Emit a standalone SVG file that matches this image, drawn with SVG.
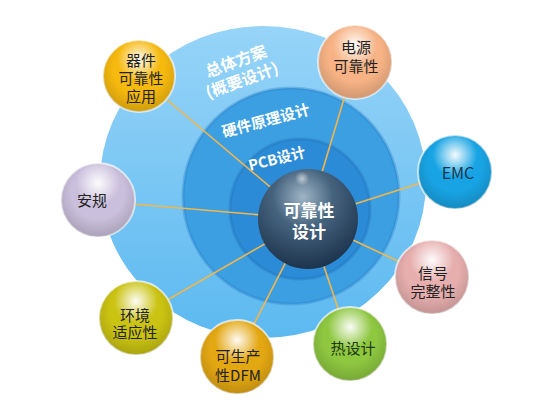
<svg xmlns="http://www.w3.org/2000/svg" width="552" height="416" viewBox="0 0 552 416">
<defs>
<style>
.n{font-family:"Noto Sans CJK SC","Noto Sans",sans-serif;font-size:15px;fill:#222;text-anchor:middle}
.r{font-family:"Noto Sans CJK SC","Noto Sans",sans-serif;font-weight:bold;fill:#fff;text-anchor:middle}
.c{stroke:#f2b64a;stroke-width:1.6;fill:none}
.rim{stroke:#fff;stroke-opacity:0.7;stroke-width:2}
</style>
<linearGradient id="outerG" x1="0" y1="0" x2="0" y2="1">
<stop offset="0" stop-color="#97d4f8"/>
<stop offset="1" stop-color="#5cb9f0"/>
</linearGradient>
<radialGradient id="gloss" cx="0.5" cy="0.27" r="0.3">
<stop offset="0" stop-color="#fff" stop-opacity="0.95"/>
<stop offset="1" stop-color="#fff" stop-opacity="0"/>
</radialGradient>
<radialGradient id="shade" cx="0.5" cy="0.4" r="0.6">
<stop offset="0.6" stop-color="#000" stop-opacity="0"/>
<stop offset="1" stop-color="#000" stop-opacity="0.16"/>
</radialGradient>
<radialGradient id="core" cx="0.45" cy="0.28" r="0.75">
<stop offset="0" stop-color="#9fb5c6"/>
<stop offset="0.4" stop-color="#46637e"/>
<stop offset="1" stop-color="#1a3049"/>
</radialGradient>
</defs>
<rect width="552" height="416" fill="#fff"/>
<g id="rings">
<ellipse cx="263" cy="182" rx="163" ry="156" fill="url(#outerG)"/>
<circle cx="291" cy="196" r="108" fill="#3c9fe2" stroke="#2a7fc6" stroke-opacity="0.35" stroke-width="3"/>
<circle cx="300" cy="209" r="70" fill="#2c8bd6" stroke="#1f6fb5" stroke-opacity="0.35" stroke-width="3"/>
<text class="r" font-size="16" transform="rotate(-20 236 61)" x="236" y="67">总体方案</text>
<text class="r" font-size="16" transform="rotate(-20 242 80)" x="242" y="86">(概要设计)</text>
<text class="r" font-size="15" transform="rotate(-15 266 121)" x="266" y="126">硬件原理设计</text>
<text class="r" font-size="14.5" transform="rotate(-14 277 159)" x="277" y="164">PCB设计</text>
</g>
<g id="connectors">
<line class="c" x1="308" y1="219" x2="139" y2="76"/>
<line class="c" x1="308" y1="219" x2="355" y2="62"/>
<line class="c" x1="308" y1="219" x2="455" y2="172"/>
<line class="c" x1="308" y1="219" x2="98" y2="201"/>
<line class="c" x1="308" y1="219" x2="432" y2="277"/>
<line class="c" x1="308" y1="219" x2="136" y2="318"/>
<line class="c" x1="308" y1="219" x2="237" y2="357"/>
<line class="c" x1="308" y1="219" x2="350" y2="344"/>
</g>
<g id="core-node">
<circle cx="308" cy="219" r="50" fill="url(#core)"/>
<circle cx="302" cy="184" r="12" fill="url(#gloss)" opacity="0.6"/>
<text class="r" font-size="17" x="309" y="217">可靠性</text>
<text class="r" font-size="17" x="309" y="238">设计</text>
</g>
<g id="n-qijian">
<circle cx="139" cy="76" r="36" fill="#f6b90e" class="rim"/>
<circle cx="139" cy="76" r="36" fill="url(#shade)"/>
<circle cx="139" cy="76" r="36" fill="url(#gloss)"/>
<text class="n" x="141" y="66">器件</text>
<text class="n" x="141" y="84">可靠性</text>
<text class="n" x="141" y="102">应用</text>
</g>
<g id="n-dianyuan">
<circle cx="355" cy="62" r="37" fill="#f7b385" class="rim"/>
<circle cx="355" cy="62" r="37" fill="url(#shade)"/>
<circle cx="355" cy="62" r="37" fill="url(#gloss)"/>
<text class="n" x="356" y="53">电源</text>
<text class="n" x="356" y="72">可靠性</text>
</g>
<g id="n-emc">
<circle cx="455" cy="172" r="37" fill="#18a4e4" class="rim"/>
<circle cx="455" cy="172" r="37" fill="url(#shade)"/>
<circle cx="455" cy="172" r="37" fill="url(#gloss)"/>
<text class="n" x="458" y="179" style="font-size:16px;fill:#173650">EMC</text>
</g>
<g id="n-anguei">
<circle cx="98" cy="200" r="37" fill="#cabfdc" class="rim"/>
<circle cx="98" cy="200" r="37" fill="url(#shade)"/>
<circle cx="98" cy="200" r="37" fill="url(#gloss)"/>
<text class="n" x="92" y="206">安规</text>
</g>
<g id="n-xinhao">
<circle cx="432" cy="277" r="37" fill="#e7aeae" class="rim"/>
<circle cx="432" cy="277" r="37" fill="url(#shade)"/>
<circle cx="432" cy="277" r="37" fill="url(#gloss)"/>
<text class="n" x="433" y="279">信号</text>
<text class="n" x="433" y="297">完整性</text>
</g>
<g id="n-huanjing">
<circle cx="136" cy="318" r="37" fill="#cac312" class="rim"/>
<circle cx="136" cy="318" r="37" fill="url(#shade)"/>
<circle cx="136" cy="318" r="37" fill="url(#gloss)"/>
<text class="n" x="135" y="321">环境</text>
<text class="n" x="135" y="338">适应性</text>
</g>
<g id="n-dfm">
<circle cx="237" cy="357" r="37" fill="#e3a712" class="rim"/>
<circle cx="237" cy="357" r="37" fill="url(#shade)"/>
<circle cx="237" cy="357" r="37" fill="url(#gloss)"/>
<text class="n" x="238" y="362">可生产</text>
<text class="n" x="238" y="381">性DFM</text>
</g>
<g id="n-re">
<circle cx="350" cy="344" r="37" fill="#8ec740" class="rim"/>
<circle cx="350" cy="344" r="37" fill="url(#shade)"/>
<circle cx="350" cy="344" r="37" fill="url(#gloss)"/>
<text class="n" x="353" y="354" style="fill:#1f3a10">热设计</text>
</g>
</svg>
